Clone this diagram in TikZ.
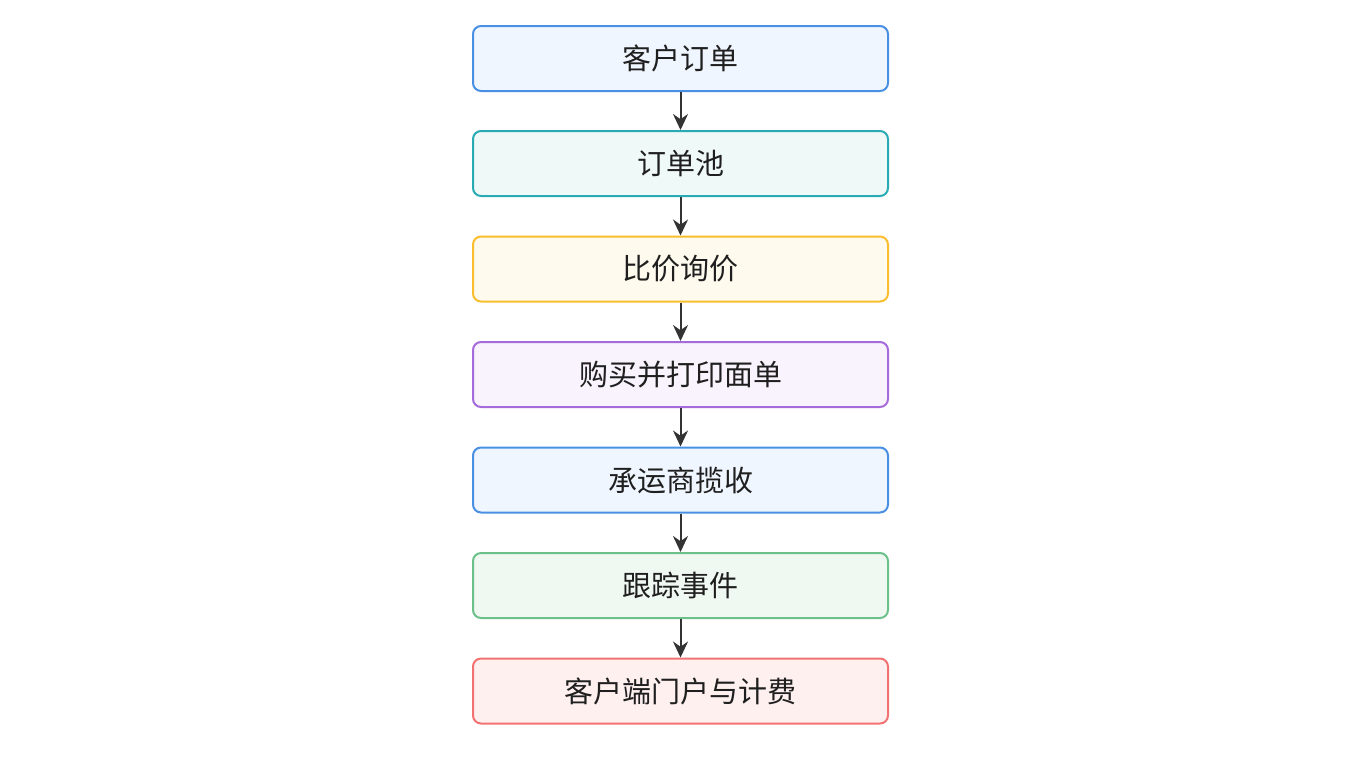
\documentclass[tikz,border=0pt]{standalone}
\usepackage{fontspec}
\newfontfamily\cjk{Noto Sans CJK SC}
\usetikzlibrary{arrows.meta}

\definecolor{blueline}{HTML}{4A90E2}
\definecolor{bluefill}{HTML}{F0F6FF}
\definecolor{tealline}{HTML}{2AABB3}
\definecolor{tealfill}{HTML}{EFF9F8}
\definecolor{yellowline}{HTML}{F9BE2E}
\definecolor{yellowfill}{HTML}{FFFAEE}
\definecolor{purpleline}{HTML}{A66BDB}
\definecolor{purplefill}{HTML}{F8F3FC}
\definecolor{greenline}{HTML}{6CC18A}
\definecolor{greenfill}{HTML}{F0F8F2}
\definecolor{redline}{HTML}{F27272}
\definecolor{redfill}{HTML}{FFF0F0}
\definecolor{arrowgray}{HTML}{333333}

\tikzset{
  stage/.style={draw, line width=1pt, rounded corners=4pt,
    minimum width=207.5pt, minimum height=32.5pt,
    font=\cjk\fontsize{14.5pt}{16pt}\selectfont, text=black!88},
  flow/.style={-{Stealth[length=8pt,width=7.5pt]}, line width=1pt, draw=arrowgray}
}

\begin{document}
\begin{tikzpicture}[x=0.5pt, y=-0.5pt]
  \useasboundingbox (0, 0) rectangle (1360, 768);

  \node[stage, draw=blueline, fill=bluefill] (order) at (680.5, 58.5) {客户订单};
  \node[stage, draw=tealline, fill=tealfill] (pool) at (680.5, 163.5) {订单池};
  \node[stage, draw=yellowline, fill=yellowfill] (quote) at (680.5, 269) {比价询价};
  \node[stage, draw=purpleline, fill=purplefill] (label) at (680.5, 374.5) {购买并打印面单};
  \node[stage, draw=blueline, fill=bluefill] (pickup) at (680.5, 480) {承运商揽收};
  \node[stage, draw=greenline, fill=greenfill] (track) at (680.5, 585.5) {跟踪事件};
  \node[stage, draw=redline, fill=redfill] (portal) at (680.5, 691) {客户端门户与计费};

  \draw[flow] (order) -- (pool);
  \draw[flow] (pool) -- (quote);
  \draw[flow] (quote) -- (label);
  \draw[flow] (label) -- (pickup);
  \draw[flow] (pickup) -- (track);
  \draw[flow] (track) -- (portal);
\end{tikzpicture}
\end{document}
